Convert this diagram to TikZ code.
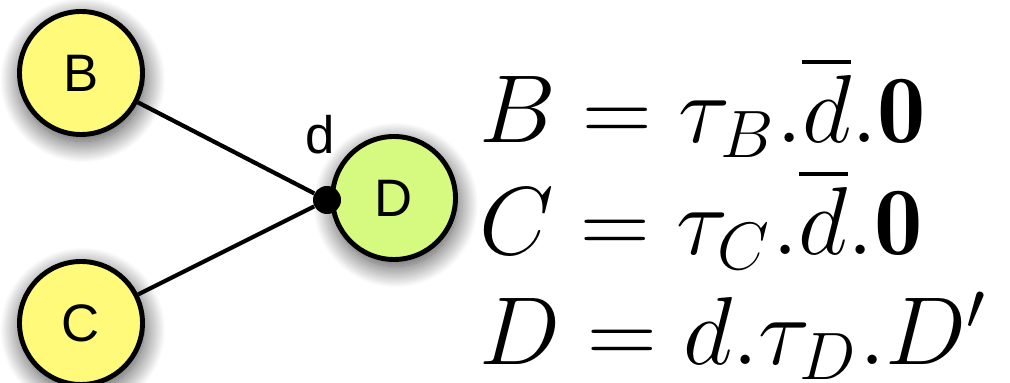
\documentclass[tikz,border=0pt]{standalone}
\usepackage{amsmath,amssymb}
\usepackage{fontspec}
\newfontfamily\labelfont{Liberation Sans}
\usepackage{tikz}
\usetikzlibrary{shadows.blur}
\definecolor{ProcYellow}{HTML}{FFFA7A}
\definecolor{ProcGreen}{HTML}{D6FA80}

\begin{document}
\begin{tikzpicture}[every node/.style={font=\labelfont\fontsize{30}{31}\selectfont},
  proc/.style={circle, draw, line width=2.8pt, minimum size=2.46cm, inner sep=0pt,
    blur shadow={shadow xshift=1pt, shadow yshift=-4pt, shadow blur radius=12pt,
      shadow blur steps=25, shadow opacity=75}},
  eqn/.style={anchor=base west, inner sep=0pt, font=\LARGE, scale=3.18, transform shape}]
  \useasboundingbox (0,0) rectangle (20.2,-7.66);
  \node[proc, fill=ProcYellow] (B) at (1.62,-1.46) {B};
  \node[proc, fill=ProcYellow] (C) at (1.62,-6.46) {C};
  \node[proc, fill=ProcGreen] (D) at (7.88,-3.96) {D};
  \node[circle, fill=black, inner sep=0pt, minimum size=0.56cm] (port) at (6.54,-4.0) {};
  \node (portlabel) at (6.40,-2.70) {d};
  \draw[line width=2.4pt] (B) -- (port);
  \draw[line width=2.4pt] (C) -- (port);
  % process definitions
  \node[eqn] (eqB) at (9.56,-2.86) {$B = \tau_B.\overline{d}.\mathbf{0}$};
  \node[eqn] (eqC) at (9.56,-5.10) {$C = \tau_C.\overline{d}.\mathbf{0}$};
  \node[eqn] (eqD) at (9.56,-7.30) {$D = d.\tau_D.D'$};
\end{tikzpicture}
\end{document}
